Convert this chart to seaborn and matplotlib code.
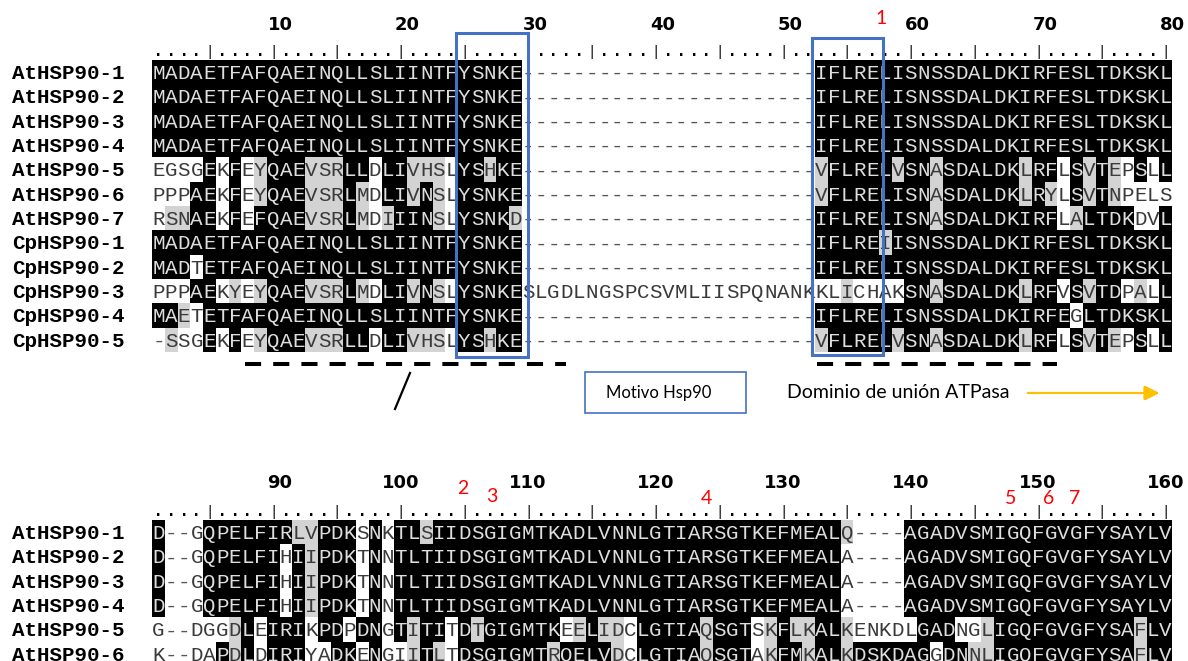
import numpy as np
import pandas as pd
import seaborn as sns
import matplotlib.pyplot as plt
from matplotlib.colors import ListedColormap
from matplotlib.patches import Rectangle
from matplotlib.lines import Line2D

W, H = 1188, 661
ROW = 24.33

# alignment block 1 (positions 1-80)
names_top = ["AtHSP90-1", "AtHSP90-2", "AtHSP90-3", "AtHSP90-4", "AtHSP90-5", "AtHSP90-6",
             "AtHSP90-7", "CpHSP90-1", "CpHSP90-2", "CpHSP90-3", "CpHSP90-4", "CpHSP90-5"]
gap23 = "-" * 23
seq_top = [
    "MADAETFAFQAEINQLLSLIINTFYSNKE" + gap23 + "IFLRELISNSSDALDKIRFESLTDKSKL",
    "MADAETFAFQAEINQLLSLIINTFYSNKE" + gap23 + "IFLRELISNSSDALDKIRFESLTDKSKL",
    "MADAETFAFQAEINQLLSLIINTFYSNKE" + gap23 + "IFLRELISNSSDALDKIRFESLTDKSKL",
    "MADAETFAFQAEINQLLSLIINTFYSNKE" + gap23 + "IFLRELISNSSDALDKIRFESLTDKSKL",
    "EGSGEKFEYQAEVSRLLDLIVHSLYSHKE" + gap23 + "VFLRELVSNASDALDKLRFLSVTEPSLL",
    "PPPAEKFEYQAEVSRLMDLIVNSLYSNKE" + gap23 + "VFLRELISNASDALDKLRYLSVTNPELS",
    "RSNAEKFEFQAEVSRLMDIIINSLYSNKD" + gap23 + "IFLRELISNASDALDKIRFLALTDKDVL",
    "MADAETFAFQAEINQLLSLIINTFYSNKE" + gap23 + "IFLREIISNSSDALDKIRFESLTDKSKL",
    "MADTETFAFQAEINQLLSLIINTFYSNKE" + gap23 + "IFLRELISNSSDALDKIRFESLTDKSKL",
    "PPPAEKYEYQAEVSRLMDLIVNSLYSNKE" + "SLGDLNGSPCSVMLIISPQNANK" + "KLICHAKSNASDALDKLRFVSVTDPALL",
    "MAETETFAFQAEINQLLSLIINTFYSNKE" + gap23 + "IFLRELISNSSDALDKIRFEGLTDKSKL",
    "-SSGEKFEYQAEVSRLLDLIVHSLYSHKE" + gap23 + "VFLRELVSNASDALDKLRFLSVTEPSLL",
]
# B = identical (black), G = similar (grey), W = no shading
w23 = "W" * 23
shade_top = [
    "B" * 29 + w23 + "B" * 28,
    "B" * 29 + w23 + "B" * 28,
    "B" * 29 + w23 + "B" * 28,
    "B" * 29 + w23 + "B" * 28,
    "WWWWBWBWGBBBGGGBBWBBGGGWBBGBB" + w23 + "GBBBBBGBBGBBBBBBGBBWBGBGWBWB",
    "WWWBBWBWGBBBGGGBGWBBGBGWBBBBB" + w23 + "GBBBBBBBBGBBBBBBGBGWBGBGWWWW",
    "WGGBBWBWBBBBGGGBGWGBBBGWBBBBG" + w23 + "BBBBBBBBBGBBBBBBBBBWGBBBBWWB",
    "B" * 29 + w23 + "BBBBBG" + "B" * 22,
    "BBBW" + "B" * 25 + w23 + "B" * 28,
    "WWWBBWGWGBBBGGGBGWBBGBGWBBBBB" + w23 + "WWGWWWWBBGBBBBBBGBBWBGBBWGWB",
    "BBGW" + "B" * 25 + w23 + "B" * 20 + "W" + "B" * 7,
    "WGWWBWBWGBBBGGGBBWBBGGGWBBGBB" + w23 + "GBBBBBGBBGBBBBBBGBBWBGBGWBWB",
]

# alignment block 2 (positions 81-160), cut at the bottom of the picture
names_bot = ["AtHSP90-1", "AtHSP90-2", "AtHSP90-3", "AtHSP90-4", "AtHSP90-5", "AtHSP90-6"]
seq_bot = [
    "D--GQPELFIRLVPDKSNKTLSIIDSGIGMTKADLVNNLGTIARSGTKEFMEALQ----AGADVSMIGQFGVGFYSAYLV",
    "D--GQPELFIHIIPDKTNNTLTIIDSGIGMTKADLVNNLGTIARSGTKEFMEALA----AGADVSMIGQFGVGFYSAYLV",
    "D--GQPELFIHIIPDKTNNTLTIIDSGIGMTKADLVNNLGTIARSGTKEFMEALA----AGADVSMIGQFGVGFYSAYLV",
    "D--GQPELFIHIIPDKTNNTLTIIDSGIGMTKADLVNNLGTIARSGTKEFMEALA----AGADVSMIGQFGVGFYSAYLV",
    "G--DGGDLEIRIKPDPDNGTITITDTGIGMTKEELIDCLGTIAQSGTSKFLKALKENKDLGADNGLIGQFGVGFYSAFLV",
    "K--DAPDLDIRIYADKENGIITLTDSGIGMTRQELVDCLGTIAQSGTAKFMKALKDSKDAGGDNNLIGQFGVGFYSAFLV",
]
shade_bot = [
    "BWWW" + "B" * 7 + "GGBBBWBWBBG" + "B" * 32 + "GWWWW" + "B" * 21,
    "BWWW" + "B" * 6 + "WBGBBBWBW" + "B" * 35 + "WWWWW" + "B" * 21,
    "BWWW" + "B" * 6 + "WBGBBBWBW" + "B" * 35 + "WWWWW" + "B" * 21,
    "BWWW" + "B" * 6 + "WBGBBBWBW" + "B" * 35 + "WWWWW" + "B" * 21,
    "WWWWWWGBWBBBWBBWBBWBGBBWBG" + "B" * 6 + "WGBGGW" + "B" * 5 + "GBBBWGBGGBBG" + "WWWWW"
    + "BBBWWG" + "B" * 11 + "GBB",
    "WWWWWBGBWBBBWWBBWBWWGBGW" + "B" * 7 + "G" + "B" * 4 + "GW" + "B" * 5 + "GBBBWGBBGBBG"
    + "B" * 6 + "WBBGG" + "B" * 11 + "GBB",
]

ruler_top = [10, 20, 30, 40, 50, 60, 70, 80]
ruler_bot = [90, 100, 110, 120, 130, 140, 150, 160]
marks = ["1", "2", "3", "4", "5", "6", "7"]

fig = plt.figure(figsize=(W / 100, H / 100), dpi=100)


def fx(x):
    return x / W


def fy(y):
    return 1 - y / H


cmap = ListedColormap(["white", "#d3d3d3", "black"])
code = {"W": 0, "G": 1, "B": 2}
X0, X1 = 152, 1172
CW = (X1 - X0) / 80


def draw_block(names, seqs, shades, top, first, labels, label_y):
    n = len(seqs)
    ax = fig.add_axes([fx(X0), fy(top + n * ROW), fx(X1) - fx(X0), n * ROW / H])
    grid = pd.DataFrame([[code[c] for c in s] for s in shades], index=names)
    sns.heatmap(grid, cmap=cmap, vmin=-0.5, vmax=2.5, cbar=False,
                xticklabels=False, yticklabels=False, linewidths=0, ax=ax)
    ax.set_axis_off()
    for i, s in enumerate(seqs):
        for j, ch in enumerate(s):
            if shades[i][j] == "B":
                col = "#dedede"
            elif ch == "-":
                col = "#555555"
            else:
                col = "#3a3a3a"
            ax.text(j + 0.5, i + 0.78, ch, ha="center", va="baseline",
                    family="Liberation Mono", fontsize=15, color=col)
        fig.text(fx(12), fy(top + i * ROW + ROW * 0.78), names[i], ha="left",
                 va="baseline", family="Liberation Mono", fontweight="bold",
                 fontsize=15, color="black")
    # ruler
    for j in range(80):
        p = first + j
        if p % 5 == 0:
            ax.text(j + 0.5, -0.17, "|", ha="center", va="baseline",
                    family="Liberation Mono", fontsize=10, color="black", clip_on=False)
        else:
            ax.text(j + 0.5, -0.17, ".", ha="center", va="baseline",
                    family="Liberation Mono", fontsize=15, color="black", clip_on=False)
    for lab in labels:
        xc = X0 + (lab - first + 0.5) * CW + (7 if lab < 100 else 0)
        fig.text(fx(xc), fy(label_y), str(lab), ha="center", va="center",
                 family="DejaVu Sans", fontweight="bold", fontsize=13, color="black")
    return ax


draw_block(names_top, seq_top, shade_top, 60, 1, ruler_top, 25)
draw_block(names_bot, seq_bot, shade_bot, 520, 81, ruler_bot, 483)

blue = "#4472C4"
# Hsp90 motif boxes
fig.add_artist(Rectangle((fx(456), fy(357)), fx(528) - fx(456), fy(33) - fy(357),
                         transform=fig.transFigure, fill=False, ec=blue, lw=2.2))
fig.add_artist(Rectangle((fx(812), fy(355)), fx(883) - fx(812), fy(38) - fy(355),
                         transform=fig.transFigure, fill=False, ec=blue, lw=2.2))

# dashed lines under the block
for xa, xb in [(245, 566), (817, 1057)]:
    fig.add_artist(Line2D([fx(xa), fx(xb)], [fy(364), fy(364)], transform=fig.transFigure,
                          color="black", lw=2.9, linestyle=(0, (4, 3)),
                          solid_capstyle="butt", dash_capstyle="butt"))
fig.add_artist(Line2D([fx(410), fx(395)], [fy(373), fy(409)], transform=fig.transFigure,
                      color="black", lw=1.6))

# legend box and arrow
fig.add_artist(Rectangle((fx(585), fy(413)), fx(746) - fx(585), fy(372) - fy(413),
                         transform=fig.transFigure, fill=False, ec=blue, lw=1.2))
fig.text(fx(659), fy(393), "Motivo Hsp90", ha="center", va="center", family="Lato",
         fontsize=12, color="black")
fig.text(fx(787), fy(392), "Dominio de unión ATPasa", ha="left", va="center", family="Lato",
         fontsize=14, color="black")
fig.add_artist(plt.annotate("", xy=(fx(1162), fy(393)), xytext=(fx(1025), fy(393)),
                            xycoords="figure fraction", textcoords="figure fraction",
                            arrowprops=dict(arrowstyle="-|>", color="#FFC000", lw=1.5,
                                            mutation_scale=22)))

# red site numbers
mark_xy = [(881, 18), (463, 488), (492, 497), (706, 498), (1011, 498), (1049, 499), (1075, 499)]
for m, (x, y) in zip(marks, mark_xy):
    fig.text(fx(x), fy(y), m, ha="center", va="center", family="Lato", fontsize=14, color="red")

plt.savefig("out.png", dpi=100)
